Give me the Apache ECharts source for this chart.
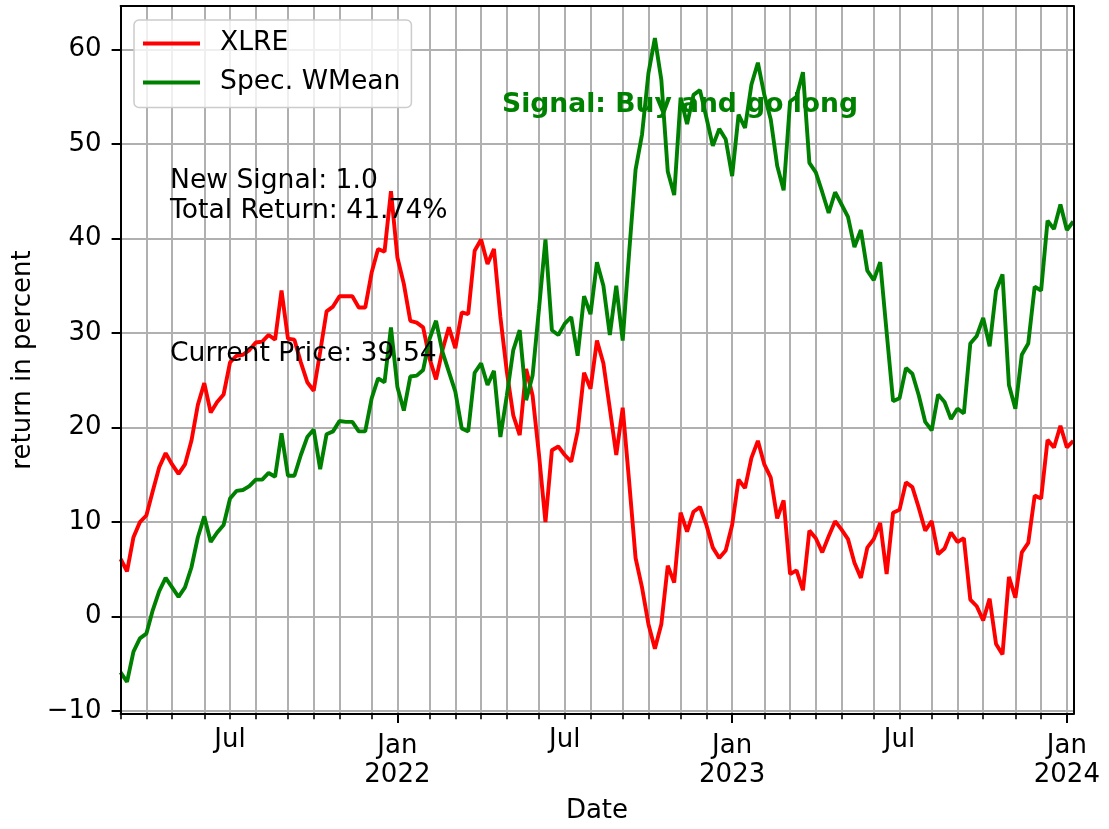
<!DOCTYPE html>
<html><head><meta charset="utf-8">
<script src="https://cdn.jsdelivr.net/npm/echarts@6.0.0/dist/echarts.min.js"></script>
<style>html,body{margin:0;padding:0;background:#fff}#chart{width:1109px;height:829px}</style>
</head><body><div id="chart"></div>
<script>
const seriesNames = ['XLRE', 'Spec. WMean'];
const xlre = [6.1,4.8,8.4,10.0,10.7,13.3,15.8,17.3,16.1,15.1,
16.1,18.6,22.4,24.7,21.6,22.7,23.5,26.9,27.6,27.7,
28.2,29.0,29.1,29.8,29.3,34.5,29.4,29.3,26.9,24.8,
23.9,28.0,32.3,32.8,33.9,33.9,33.9,32.7,32.7,36.4,
38.9,38.6,45.0,38.0,35.2,31.3,31.1,30.6,27.3,25.1,
28.2,30.6,28.4,32.2,32.0,38.7,39.9,37.3,38.9,31.7,
25.9,21.3,19.2,26.2,23.4,17.1,10.0,17.6,18.0,17.1,
16.4,19.6,25.8,24.1,29.2,26.8,22.0,17.1,22.1,14.3,
6.2,3.1,-0.8,-3.4,-0.8,5.4,3.6,11.0,9.0,11.1,
11.6,9.7,7.3,6.2,7.0,9.7,14.5,13.6,16.8,18.6,
16.1,14.7,10.4,12.3,4.5,4.9,2.8,9.1,8.3,6.8,
8.5,10.1,9.2,8.2,5.7,4.1,7.3,8.2,9.9,4.5,
11.0,11.3,14.2,13.7,11.5,9.1,10.1,6.6,7.2,8.9,
7.9,8.3,1.8,1.1,-0.4,1.9,-2.9,-4.0,4.2,2.0,
6.8,7.8,12.8,12.5,18.7,17.9,20.2,17.9,18.6];
const specWMean = [-5.9,-6.9,-3.7,-2.3,-1.8,0.7,2.7,4.1,3.1,2.1,
3.1,5.2,8.4,10.6,7.9,8.9,9.7,12.5,13.3,13.4,
13.8,14.5,14.5,15.2,14.8,19.4,14.9,14.9,17.1,19.0,
19.8,15.6,19.3,19.6,20.7,20.6,20.6,19.6,19.6,23.1,
25.2,24.8,30.6,24.3,21.8,25.4,25.5,26.1,29.4,31.3,
28.0,25.9,23.8,19.9,19.6,25.8,26.8,24.5,26.0,19.0,
23.4,28.2,30.3,22.9,25.5,32.6,39.9,30.3,29.8,31.0,
31.7,27.6,33.9,32.0,37.5,35.0,29.8,35.0,29.2,38.5,
47.3,51.0,57.5,61.2,56.8,47.1,44.6,54.9,52.1,55.2,
55.7,52.8,49.8,51.6,50.5,46.6,53.1,51.7,56.3,58.6,
55.2,52.6,47.7,45.1,54.5,55.0,57.6,48.0,47.0,44.9,
42.7,44.9,43.6,42.3,39.1,40.9,36.6,35.6,37.5,30.1,
22.8,23.1,26.3,25.7,23.4,20.6,19.7,23.5,22.7,20.9,
22.0,21.5,28.9,29.7,31.6,28.6,34.5,36.2,24.5,22.0,
27.7,28.9,34.9,34.5,41.9,41.0,43.6,40.9,41.8];
const yTicks = [-10, 0, 10, 20, 30, 40, 50, 60];
const monthNames = ['Jan','Feb','Mar','Apr','May','Jun','Jul','Aug','Sep','Oct','Nov','Dec'];
const majorLabelMonths = ['Jan'];
const minorLabelMonths = ['Jul'];
const firstWeek = '2021-03-08';
const axisTitles = ['Date', 'return in percent'];
const signalText = 'Signal: Buy and go long';
const infoTexts = ['New Signal: 1.0', 'Total Return: 41.74%', 'Current Price: 39.54'];

// weekly date categories (Mondays)
const weeks = [];
(function () {
  const t0 = Date.parse(firstWeek + 'T00:00:00Z');
  for (let i = 0; i < xlre.length; i++) {
    weeks.push(new Date(t0 + i * 7 * 86400000).toISOString().slice(0, 10));
  }
})();
const monthOf = s => monthNames[parseInt(s.slice(5, 7), 10) - 1];
const isMonthStart = i => i === 0 || weeks[i].slice(5, 7) !== weeks[i - 1].slice(5, 7);
const isMajor = i => isMonthStart(i) && majorLabelMonths.indexOf(monthOf(weeks[i])) >= 0;
const isMinor = i => isMonthStart(i) && !isMajor(i);

const FONT = '"DejaVu Sans", sans-serif';
const FS = 26;
const FS_TXT = 26.6;
const GRID_C = '#b0b0b0';

const chart = echarts.init(document.getElementById('chart'), null, { renderer: 'canvas' });
const base = { type: 'category', data: weeks, boundaryGap: false, gridIndex: 0 };
chart.setOption({
  animation: false,
  backgroundColor: '#ffffff',
  textStyle: { fontFamily: FONT },
  grid: { left: 120.6, right: 35.7, top: 6, bottom: 112.3 },
  legend: {
    data: seriesNames, orient: 'vertical', left: 134, top: 20,
    icon: 'rect', itemWidth: 57, itemHeight: 4, itemGap: 9,
    padding: [8.5, 11, 10, 9],
    borderColor: '#cccccc', borderWidth: 1.5, borderRadius: 5,
    backgroundColor: 'rgba(255,255,255,0.8)',
    textStyle: { fontSize: FS_TXT, fontFamily: FONT, color: '#000', lineHeight: 30, padding: [0, 0, 0, 15] },
    z: 10
  },
  xAxis: [
    Object.assign({}, base, {
      position: 'bottom',
      name: axisTitles[0], nameLocation: 'middle', nameGap: 84,
      nameTextStyle: { fontSize: FS, fontFamily: FONT, color: '#000' },
      axisLine: { show: false, onZero: false },
      axisTick: { show: true, length: 9, lineStyle: { color: '#000', width: 2 }, interval: (i) => isMajor(i) },
      axisLabel: { show: true, interval: (i) => isMajor(i), margin: 18, fontSize: FS, fontFamily: FONT, color: '#000', lineHeight: 29,
        formatter: (v) => monthOf(v) + '\n' + v.slice(0, 4) },
      splitLine: { show: true, interval: (i) => isMonthStart(i), lineStyle: { color: GRID_C, width: 2 } }
    }),
    Object.assign({}, base, {
      position: 'bottom',
      axisLine: { show: false, onZero: false },
      axisTick: { show: true, length: 5.2, lineStyle: { color: '#000', width: 1.6 }, interval: (i) => isMinor(i) },
      axisLabel: { show: true, interval: (i) => isMinor(i) && minorLabelMonths.indexOf(monthOf(weeks[i])) >= 0,
        margin: 12, fontSize: FS, fontFamily: FONT, color: '#000', lineHeight: 29, formatter: (v) => monthOf(v) },
      splitLine: { show: false }
    }),
    Object.assign({}, base, { position: 'bottom', z: 5, axisLine: { show: true, onZero: false, lineStyle: { color: '#000', width: 2 } },
      axisTick: { show: false }, axisLabel: { show: false }, splitLine: { show: false } }),
    Object.assign({}, base, { position: 'top', z: 5, axisLine: { show: true, onZero: false, lineStyle: { color: '#000', width: 2 } },
      axisTick: { show: false }, axisLabel: { show: false }, splitLine: { show: false } })
  ],
  yAxis: [
    {
      type: 'value', min: -10.3, max: 64.6, splitNumber: 7, position: 'left',
      name: axisTitles[1], nameLocation: 'middle', nameGap: 77, nameRotate: 90,
      nameTextStyle: { fontSize: FS, fontFamily: FONT, color: '#000' },
      axisLine: { show: false, onZero: false },
      axisTick: { show: true, length: 9, lineStyle: { color: '#000', width: 2 }, customValues: yTicks },
      axisLabel: { show: true, customValues: yTicks, margin: 19, fontSize: FS, fontFamily: FONT, color: '#000',
        formatter: (v) => (v < 0 ? '\u2212' + Math.abs(v) : String(v)) },
      splitLine: { show: true, lineStyle: { color: GRID_C, width: 2 } }
    },
    { type: 'value', min: -10.3, max: 64.6, position: 'left', z: 5,
      axisLine: { show: true, onZero: false, lineStyle: { color: '#000', width: 2 } },
      axisTick: { show: false }, axisLabel: { show: false }, splitLine: { show: false } },
    { type: 'value', min: -10.3, max: 64.6, position: 'right', z: 5,
      axisLine: { show: true, onZero: false, lineStyle: { color: '#000', width: 2 } },
      axisTick: { show: false }, axisLabel: { show: false }, splitLine: { show: false } }
  ],
  series: [
    { name: seriesNames[0], type: 'line', data: xlre, xAxisIndex: 0, yAxisIndex: 0,
      showSymbol: false, symbol: 'none', color: '#ff0000',
      lineStyle: { color: '#ff0000', width: 3.9 }, itemStyle: { color: '#ff0000' } },
    { name: seriesNames[1], type: 'line', data: specWMean, xAxisIndex: 0, yAxisIndex: 0,
      showSymbol: false, symbol: 'none', color: '#008000',
      lineStyle: { color: '#008000', width: 3.9 }, itemStyle: { color: '#008000' } }
  ],
  graphic: [
    { type: 'text', left: 502, top: 92, z: 20, style: { text: signalText, fontSize: FS_TXT, fontWeight: 'bold', fontFamily: FONT, fill: '#008000' } },
    { type: 'text', left: 170, top: 168, z: 20, style: { text: infoTexts[0], fontSize: FS_TXT, fontFamily: FONT, fill: '#000' } },
    { type: 'text', left: 170, top: 198, z: 20, style: { text: infoTexts[1], fontSize: FS_TXT, fontFamily: FONT, fill: '#000' } },
    { type: 'text', left: 170, top: 341, z: 20, style: { text: infoTexts[2], fontSize: FS_TXT, fontFamily: FONT, fill: '#000' } }
  ]
});
</script>
</body></html>
